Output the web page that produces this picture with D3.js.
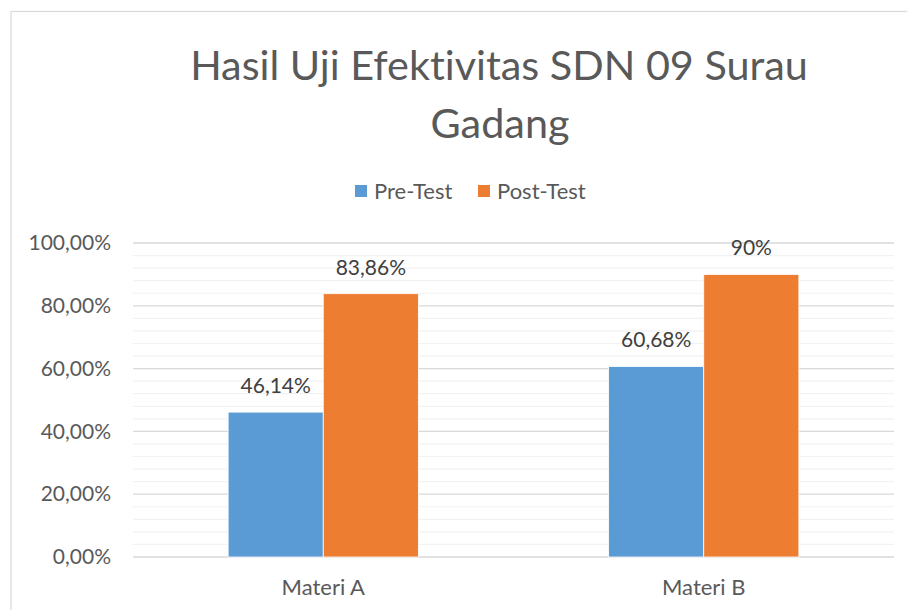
<!DOCTYPE html>
<html><head><meta charset="utf-8">
<script src="https://cdn.jsdelivr.net/npm/d3@7"></script>
<style>body{margin:0;background:#fff;} svg{display:block;} text{font-variant-ligatures:none;}</style>
</head><body>
<svg id="c" width="907" height="610"></svg>
<script>
const titleLines = ["Hasil Uji Efektivitas SDN 09 Surau", "Gadang"];
const categories = ["Materi A", "Materi B"];
const seriesNames = ["Pre-Test", "Post-Test"];
const preTest = [46.14, 60.68];
const postTest = [83.86, 90];
const preLabels = ["46,14%", "60,68%"];
const postLabels = ["83,86%", "90%"];
const yTicks = [0, 20, 40, 60, 80, 100];
const yTickLabels = ["0,00%", "20,00%", "40,00%", "60,00%", "80,00%", "100,00%"];
const colors = ["#5B9BD5", "#ED7D31"];

(function () {
const font = "Lato, 'Open Sans', sans-serif";
const svg = d3.select("#c");
svg.append("rect").attr("x", 11).attr("y", 11.5).attr("width", 1000).attr("height", 1000)
  .attr("fill", "#fff").attr("stroke", "#D9D9D9").attr("stroke-width", 1.2);

const pL = 133, pR = 894, pT = 243, pB = 557;
const x0 = d3.scaleBand().domain(categories).range([pL, pR]).paddingInner(0).paddingOuter(0);
const x1 = d3.scaleBand().domain(seriesNames).range([0, x0.bandwidth()]).paddingInner(0).paddingOuter(1);
const y = d3.scaleLinear().domain([0, 100]).range([pB, pT]);

const minor = d3.range(0, 101, 4).filter(v => v % 20 !== 0);
svg.append("g").selectAll("line").data(minor).join("line")
  .attr("x1", pL).attr("x2", pR).attr("y1", d => y(d)).attr("y2", d => y(d))
  .attr("stroke", "#F2F2F2").attr("stroke-width", 1.2);
svg.append("g").selectAll("line").data(yTicks).join("line")
  .attr("x1", pL).attr("x2", pR).attr("y1", d => y(d)).attr("y2", d => y(d))
  .attr("stroke", "#D9D9D9").attr("stroke-width", 1.3);

const yAxis = d3.axisLeft(y).tickValues(yTicks).tickSize(0).tickPadding(22)
  .tickFormat((d, i) => yTickLabels[i]);
const ya = svg.append("g").attr("transform", `translate(${pL},0)`).call(yAxis);
ya.select(".domain").remove();
ya.selectAll("text").attr("font-family", font).attr("font-size", 21).attr("fill", "#595959");

const xAxis = d3.axisBottom(x0).tickSize(0).tickPadding(22);
const xa = svg.append("g").attr("transform", `translate(0,${pB})`).call(xAxis);
xa.select(".domain").remove();
xa.selectAll("text").attr("font-family", font).attr("font-size", 22).attr("fill", "#595959");

const data = [preTest, postTest];
const labels = [preLabels, postLabels];
seriesNames.forEach((s, si) => {
  const g = svg.append("g");
  g.selectAll("rect").data(categories).join("rect")
    .attr("x", c => x0(c) + x1(s)).attr("width", x1.bandwidth())
    .attr("y", (c, i) => y(data[si][i])).attr("height", (c, i) => pB - y(data[si][i]))
    .attr("fill", colors[si]).attr("stroke", "#fff").attr("stroke-width", 0.8);
  g.selectAll("text").data(categories).join("text")
    .attr("x", c => x0(c) + x1(s) + x1.bandwidth() / 2)
    .attr("y", (c, i) => y(data[si][i]) - 19)
    .attr("text-anchor", "middle").attr("font-family", font).attr("font-size", 21)
    .attr("fill", "#404040").text((c, i) => labels[si][i]);
});

const t1 = svg.append("text").attr("x", 499).attr("y", 80).attr("text-anchor", "middle")
  .attr("font-family", font).attr("font-size", 43).attr("fill", "#595959").text(titleLines[0]);
const w = t1.node().getComputedTextLength();
const fs = 43 * 618 / w;
t1.attr("font-size", fs);
svg.append("text").attr("x", 500).attr("y", 138).attr("text-anchor", "middle")
  .attr("font-family", font).attr("font-size", fs).attr("fill", "#595959").text(titleLines[1]);

const legendX = [355, 478];
seriesNames.forEach((s, i) => {
  svg.append("rect").attr("x", legendX[i]).attr("y", 185).attr("width", 12).attr("height", 12).attr("fill", colors[i]);
  svg.append("text").attr("x", legendX[i] + 19).attr("y", 199).attr("font-family", font)
    .attr("font-size", 22).attr("fill", "#595959").text(s);
});
})();
</script>
</body></html>
